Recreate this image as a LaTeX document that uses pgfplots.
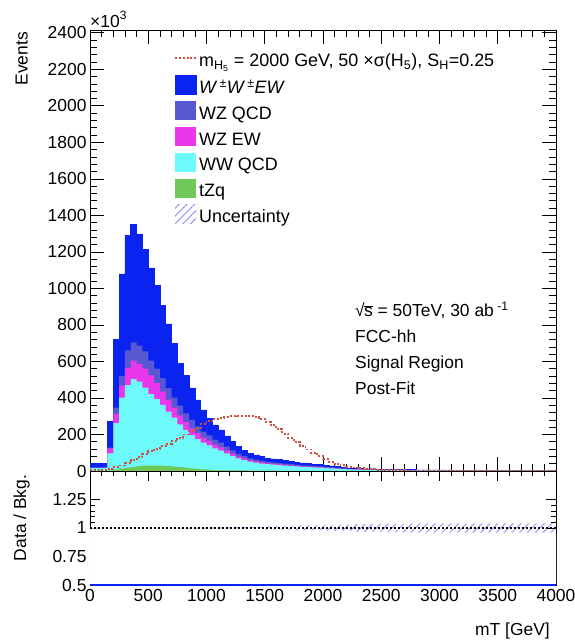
\documentclass[border=0pt]{standalone}
\usepackage{fontspec}
\setmainfont{Liberation Sans}
\usepackage{pgfplots}
\pgfplotsset{compat=1.18}
\usepackage{pgfplotstable}
\usetikzlibrary{patterns,patterns.meta}

\definecolor{cWWEW}{RGB}{10,35,240}
\definecolor{cWZQCD}{RGB}{88,88,210}
\definecolor{cWZEW}{RGB}{235,55,235}
\definecolor{cWWQCD}{RGB}{110,250,250}
\definecolor{cTZQ}{RGB}{110,200,90}
\definecolor{cSig}{RGB}{205,80,65}
\definecolor{cUnc}{RGB}{150,150,255}

\tikzset{hatch/.style={draw=none, pattern={Lines[angle=45,distance=5.5bp,line width=1bp]}, pattern color=cUnc}}

% values in units of 10^3 events, 50 GeV bins (lower edge), last row closes the histogram
\pgfplotstableread{
x tzq wwqcd wzew wzqcd wwew sig
0 0.5 16 1 1 21.5 4
50 0.5 16 1 1 21.5 4
100 0.5 16 1 1 21.5 5
150 3 94 27 4 142 12
200 8 254 49 36 375 22
250 14 388 66 53 558 30
300 19 451 95 95 631 42
350 23 480 102 99 645 58
400 27 463 95 101 609 75
450 29 428 103 95 557 92
500 30 391 102 82 507 108
550 30 363 88 79 455 122
600 29 333 73 73 399 136
650 27 298 64 65 352 150
700 24 268 55 55 298 165
750 21 235 49 53 233 182
800 18 207 42 49 206 200
850 15 182 37 46 175 218
900 12 163 32 38 144 236
950 9 146 27 33 120 255
1000 7 133 25 30 94 272
1050 5 119 21 27 80 285
1100 4 108 18 25 70 292
1150 4 93 15 21 59 296
1200 3 79 13 18 48 299
1250 3 66 10 15 39 301
1300 3 57 9 12 34 302
1350 2 49 7 11 28 300
1400 2 44 7 9 26 294
1450 2 39 6 8 23 284
1500 2 35 5 8 20 268
1550 2 33 5 7 19 250
1600 1 31 5 7 18 228
1650 1 29 4 6 17 205
1700 1 26 4 6 15 182
1750 1 24 4 5 14 160
1800 1 22 3 5 13 138
1850 1 20 3 5 12 118
1900 1 19 3 4 11 98
1950 1 17 3 4 10 80
2000 1 16 2 4 9 64
2050 0.5 14 2 3 8.5 50
2100 0.5 12 2 3 6.5 39
2150 0.5 10 1.5 2.5 5.5 31
2200 0.5 8.5 1.3 2 4.7 24
2250 0.4 7.5 1.1 1.8 4.2 19
2300 0.4 6.5 1 1.6 3.5 15
2350 0.3 6 0.9 1.5 3.3 12
2400 0.3 5.5 0.8 1.3 3.1 9
2450 0.3 5 0.7 1.2 2.8 7
2500 0.3 4.5 0.7 1.1 2.4 6
2550 0.2 4.3 0.6 1 2.4 5
2600 0.2 4 0.6 1 2.2 4
2650 0.2 3.8 0.5 0.9 2.1 4
2700 0.2 3.5 0.5 0.9 1.9 3
2750 0.2 3.5 0.5 0.9 1.9 3
2800 0.2 3.3 0.5 0.8 1.7 3
2850 0.2 3.3 0.5 0.8 1.7 3
2900 0.2 3 0.4 0.7 1.7 3
2950 0.2 3 0.4 0.7 1.7 3
3000 0.1 2.8 0.4 0.7 1.5 2.5
3050 0.1 2.8 0.4 0.7 1.5 2.5
3100 0.1 2.5 0.4 0.6 1.4 2.5
3150 0.1 2.5 0.4 0.6 1.4 2.5
3200 0.1 2.4 0.3 0.6 1.3 2.5
3250 0.1 2.4 0.3 0.6 1.3 2
3300 0.1 2.3 0.3 0.6 1.2 2
3350 0.1 2.3 0.3 0.6 1.2 2
3400 0.1 2.2 0.3 0.5 1.2 2
3450 0.1 2.2 0.3 0.5 1.2 2
3500 0.1 2.1 0.3 0.5 1.1 2
3550 0.1 2.1 0.3 0.5 1.1 2
3600 0.1 2 0.3 0.5 1.1 2
3650 0.1 2 0.3 0.5 1.1 2
3700 0.1 2 0.3 0.5 1 2
3750 0.1 2 0.3 0.5 1 2
3800 0.1 1.9 0.3 0.5 1 2
3850 0.1 1.9 0.3 0.5 1 2
3900 0.1 1.9 0.3 0.5 1 2
3950 0.1 1.9 0.3 0.5 1 2
4000 0.1 1.9 0.3 0.5 1 2
}\bkg

\pgfplotstableread{
x lo hi
0 0.996 1.004
250 0.996 1.004
500 0.996 1.004
750 0.995 1.005
1000 0.995 1.005
1250 0.992 1.008
1500 0.986 1.014
1750 0.98 1.02
2000 0.972 1.028
2250 0.966 1.034
2500 0.962 1.038
2750 0.96 1.04
3000 0.96 1.04
3250 0.96 1.04
3500 0.96 1.04
3750 0.96 1.04
4000 0.96 1.04
}\unc

\pgfplotsset{
  rootaxis/.style={
    scale only axis, width=466bp,
    xmin=0, xmax=4000,
    xtick={0,500,...,4000},
    minor x tick num=4, minor y tick num=4,
    tick align=inside,
    xtick pos=both, ytick pos=both,
    tick style={black, line width=0.6bp},
    axis line style={black, line width=0.8bp},
    tick label style={font=\fontsize{17.5}{21}\selectfont},
    /pgf/number format/assume math mode=true,
  },
}

\begin{document}
\begin{tikzpicture}[font=\fontsize{17.5}{21}\selectfont]
\path[use as bounding box] (-90bp,-169bp) rectangle (485bp,471bp);

\begin{axis}[rootaxis,
  at={(0,0)}, anchor=south west, height=441bp,
  ymin=0, ymax=2415,
  xticklabels={},
  ytick={0,200,...,2400},
  yticklabels={0,200,400,600,800,1000,1200,1400,1600,1800,2000,2200,2400},
  major tick length=14bp, minor tick length=7bp,
  legend style={at={(rel axis cs:0.1803,0.952)}, anchor=north west,
    draw=none, fill=none, font=\fontsize{18}{21}\selectfont,
    row sep=4.3bp, inner sep=0bp,
    /tikz/every even column/.append style={column sep=1bp}},
  legend cell align=left,
]
\addlegendimage{legend image code/.code={
  \path[draw=none,fill=none] (0bp,-9.5bp) rectangle (21bp,9.5bp);
  \draw[cSig, dash pattern=on 2bp off 1.8bp, line width=1.9bp] (0bp,0.3em) -- (21bp,0.3em);}}
\addlegendentry{m\textsubscript{H\textsubscript{5}} = 2000 GeV, 50 ×σ(H\textsubscript{5}), S\textsubscript{H}=0.25}

\addplot[const plot, fill=cWWEW, draw=cWWEW, line width=0.6bp,
  legend image code/.code={\fill[cWWEW] (0bp,-9.5bp+0.3em) rectangle (21bp,9.5bp+0.3em);}]
  table[x=x, y expr=\thisrow{tzq}+\thisrow{wwqcd}+\thisrow{wzew}+\thisrow{wzqcd}+\thisrow{wwew}] {\bkg} \closedcycle;
\addlegendentry{\textit{W\textsuperscript{ ±}W\textsuperscript{ ±}EW}}

\addplot[const plot, fill=cWZQCD, draw=none,
  legend image code/.code={\fill[cWZQCD] (0bp,-9.5bp+0.3em) rectangle (21bp,9.5bp+0.3em);}]
  table[x=x, y expr=\thisrow{tzq}+\thisrow{wwqcd}+\thisrow{wzew}+\thisrow{wzqcd}] {\bkg} \closedcycle;
\addlegendentry{WZ QCD}

\addplot[const plot, fill=cWZEW, draw=none,
  legend image code/.code={\fill[cWZEW] (0bp,-9.5bp+0.3em) rectangle (21bp,9.5bp+0.3em);}]
  table[x=x, y expr=\thisrow{tzq}+\thisrow{wwqcd}+\thisrow{wzew}] {\bkg} \closedcycle;
\addlegendentry{WZ EW}

\addplot[const plot, fill=cWWQCD, draw=none,
  legend image code/.code={\fill[cWWQCD] (0bp,-9.5bp+0.3em) rectangle (21bp,9.5bp+0.3em);}]
  table[x=x, y expr=\thisrow{tzq}+\thisrow{wwqcd}] {\bkg} \closedcycle;
\addlegendentry{WW QCD}

\addplot[const plot, fill=cTZQ, draw=none,
  legend image code/.code={\fill[cTZQ] (0bp,-9.5bp+0.3em) rectangle (21bp,9.5bp+0.3em);}]
  table[x=x, y=tzq] {\bkg} \closedcycle;
\addlegendentry{tZq}

\addlegendimage{legend image code/.code={
  \path[hatch] (0bp,-9.5bp+0.3em) rectangle (21bp,9.5bp+0.3em);}}
\addlegendentry{Uncertainty}

\addplot[const plot, cSig, dash pattern=on 2bp off 1.8bp, line width=1.9bp, forget plot]
  table[x=x, y=sig] {\bkg};
\end{axis}

\begin{axis}[rootaxis,
  at={(0,0)}, anchor=north west, height=114bp,
  ymin=0.5, ymax=1.5,
  ytick={0.5,0.75,1,1.25},
  yticklabels={0.5,0.75,1,1.25},
  xticklabels={0,500,1000,1500,2000,2500,3000,3500,4000},
  major tick length=10bp, minor tick length=5bp,
  xticklabel style={yshift=-1bp},
]
\addplot[const plot, hatch] table[x=x, y=hi] {\unc} \closedcycle;
\addplot[const plot, draw=none, fill=white] table[x=x, y=lo] {\unc} \closedcycle;
\addplot[black, dash pattern=on 1.6bp off 2.4bp, line width=1.4bp] coordinates {(0,1) (4000,1)};
\addplot[cWWEW, line width=2bp] coordinates {(0,0.5) (4000,0.5)};
\end{axis}

\node[anchor=base west, inner sep=0pt] at (0bp,443bp) {×10\raisebox{0.5em}{\fontsize{12}{12}\selectfont 3}};
\node[rotate=90, anchor=south east, inner sep=0pt] at (-62bp,439bp) {Events};
\node[rotate=90, anchor=south, inner sep=0pt] at (-60bp,-47bp) {Data / Bkg.};
\node[anchor=base east, inner sep=0pt] at (460bp,-164bp) {mT [GeV]};

\node[anchor=base west, inner sep=0pt] at (265bp,154bp) {√\kern-0.6pt$\overline{\mbox{s}}$ = 50TeV, 30 ab\textsuperscript{ -1}};
\node[anchor=base west, inner sep=0pt] at (265bp,128bp) {FCC-hh};
\node[anchor=base west, inner sep=0pt] at (265bp,102bp) {Signal Region};
\node[anchor=base west, inner sep=0pt] at (265bp,76bp) {Post-Fit};
\end{tikzpicture}
\end{document}
